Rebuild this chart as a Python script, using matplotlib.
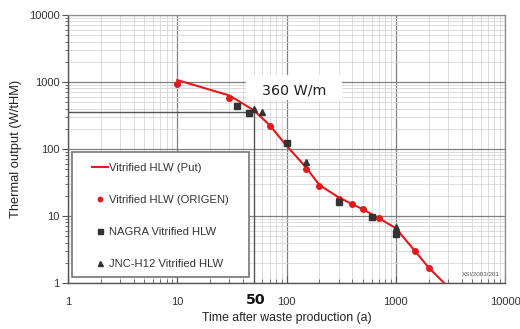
import matplotlib
matplotlib.use("Agg")
import matplotlib.pyplot as plt
from matplotlib.patches import Rectangle
from matplotlib.ticker import LogLocator, NullFormatter, FixedLocator, FixedFormatter

plt.rcParams['font.family'] = ['Liberation Sans', 'DejaVu Sans']

# decay heat of vitrified HLW, W per tonne heavy metal
put_years = [10, 30, 50, 70, 100, 150, 200, 300, 400, 500, 700, 1000, 1500, 2000, 3000]
put_power = [1070, 630, 380, 228, 112, 54, 29, 19, 15, 12.6, 9.3, 6.6, 3.0, 1.7, 0.88]

origen_years = [10, 30, 70, 150, 200, 300, 400, 500, 700, 1500, 2000]
origen_power = [920, 570, 220, 50, 28, 18, 15, 12.6, 9.2, 3.0, 1.7]

nagra_years = [35, 45, 100, 300, 600, 1000]
nagra_power = [440, 350, 122, 16, 9.5, 5.3]

jnc_years = [50, 60, 150, 1000]
jnc_power = [390, 360, 63, 6.8]

ref_year = 50
ref_power = 360
ref_label = "360 W/m"

xticks = [1, 10, 100, 1000, 10000]
yticks = [1, 10, 100, 1000, 10000]

red = "#e3191c"
dark = "#333333"

fig = plt.figure(figsize=(5.2, 3.29), dpi=100)
ax = fig.add_axes([68 / 520, 1 - 283 / 329, 437 / 520, 268 / 329])
ax.set_xscale("log")
ax.set_yscale("log")
ax.set_xlim(1, 10000)
ax.set_ylim(1, 10000)

# grid: light minor, darker major
ax.grid(which="minor", color="#d6d6d6", lw=0.6, zorder=0)
ax.grid(which="major", color="#808080", lw=0.9, zorder=0)
ax.set_axisbelow(True)

ax.xaxis.set_major_locator(FixedLocator(xticks))
ax.xaxis.set_major_formatter(FixedFormatter([str(v) for v in xticks]))
ax.yaxis.set_major_locator(FixedLocator(yticks))
ax.yaxis.set_major_formatter(FixedFormatter([str(v) for v in yticks]))
ax.xaxis.set_minor_locator(LogLocator(base=10, subs=range(2, 10), numticks=20))
ax.yaxis.set_minor_locator(LogLocator(base=10, subs=range(2, 10), numticks=20))
ax.xaxis.set_minor_formatter(NullFormatter())
ax.yaxis.set_minor_formatter(NullFormatter())

ax.tick_params(axis="x", which="major", direction="in", length=5, width=0.8,
               colors="#555555", labelcolor=dark, labelsize=8, pad=10)
ax.tick_params(axis="x", which="minor", direction="in", length=3, width=0.6, colors="#555555")
ax.tick_params(axis="y", which="major", direction="out", length=4, width=0.8,
               colors="#555555", labelcolor=dark, labelsize=8, pad=2)
ax.tick_params(axis="y", which="minor", direction="out", length=2.5, width=0.6, colors="#555555")

for side in ["left", "bottom"]:
    ax.spines[side].set_color("#555555")
    ax.spines[side].set_linewidth(1.0)
for side in ["top", "right"]:
    ax.spines[side].set_color("#8a8a8a")
    ax.spines[side].set_linewidth(0.9)

# reference lines at 50 years / 360 W
ax.plot([1, ref_year], [ref_power, ref_power], color="#555555", lw=1.0, zorder=2)
ax.plot([ref_year, ref_year], [1, ref_power], color="#555555", lw=1.0, zorder=2)

ax.plot(put_years, put_power, color=red, lw=1.5, zorder=4, label="Vitrified HLW (Put)")
ax.plot(origen_years, origen_power, ls="none", marker="o", ms=4, color=red,
        zorder=5, label="Vitrified HLW (ORIGEN)")
ax.plot(nagra_years, nagra_power, ls="none", marker="s", ms=4.5, color=dark,
        zorder=5, label="NAGRA Vitrified HLW")
ax.plot(jnc_years, jnc_power, ls="none", marker="^", ms=4.5, color=dark,
        zorder=5, label="JNC-H12 Vitrified HLW")

# white patch behind the 360 W/m label
ax.add_patch(Rectangle(((246 - 68) / 437, (283 - 100) / 268), 96 / 437, 25 / 268,
                       transform=ax.transAxes, facecolor="white", edgecolor="none", zorder=3))
ax.text(294.5 / 520, 1 - 90.5 / 329, ref_label, transform=fig.transFigure,
        family="DejaVu Sans", fontsize=10.3, color="#222222", ha="center", va="center", zorder=6)

ax.text(255.5 / 520, 1 - 300 / 329, str(ref_year), transform=fig.transFigure,
        family="DejaVu Sans", fontweight="bold", fontsize=10.2, color="#111111",
        ha="center", va="center")

# legend frame and entries
ax.add_patch(Rectangle(((72 - 68) / 437, (283 - 277) / 268), 177 / 437, 125 / 268,
                       transform=ax.transAxes, facecolor="white", edgecolor="#777777",
                       lw=1.2, zorder=6))
leg = ax.legend(loc="upper left", bbox_to_anchor=(92 / 520, 1 - 163 / 329),
                bbox_transform=fig.transFigure, frameon=False, fontsize=8.1,
                handlelength=1.4, handletextpad=0.15, labelspacing=1.95,
                borderpad=0, borderaxespad=0, markerscale=0.8)
leg.set_zorder(7)
for t in leg.get_texts():
    t.set_color(dark)

ax.text(500 / 520, 1 - 275 / 329, "XSI/2003/201", transform=fig.transFigure,
        fontsize=4.5, color="#555555", ha="right", va="center")

ax.set_xlabel("Time after waste production (a)", fontsize=8.8, color="#222222", labelpad=4)
ax.set_ylabel("Thermal output (W/tHM)", fontsize=9.3, color="#222222", labelpad=5)

fig.savefig("out.png", dpi=100)
